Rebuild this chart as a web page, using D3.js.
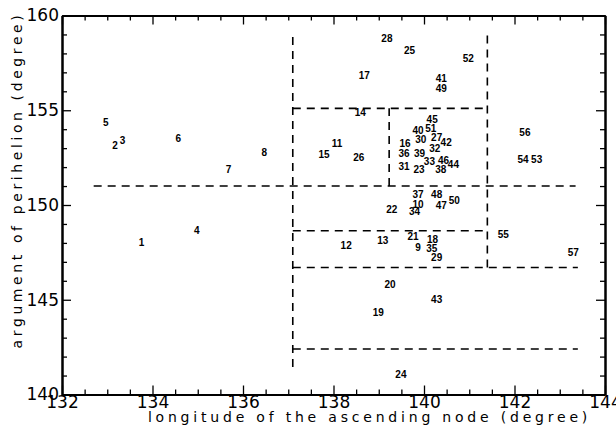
<!DOCTYPE html>
<html>
<head>
<meta charset="utf-8">
<script src="https://cdn.jsdelivr.net/npm/d3@7"></script>
<style>
  body { margin: 0; background: #fff; }
  svg { display: block; }
</style>
</head>
<body>
<svg id="chart"></svg>
<script>
// node vs perihelion, numbered objects
const ids = [1,2,3,4,5,6,7,8,9,10,11,12,13,14,15,16,17,18,19,20,21,22,23,24,25,26,27,28,29,30,
  31,32,33,34,35,36,37,38,39,40,41,42,43,44,45,46,47,48,49,50,51,52,53,54,55,56,57];
const lonValues = [133.76,133.17,133.34,134.98,132.97,134.57,135.68,136.47,139.87,139.87,
  138.08,138.28,139.09,138.59,137.79,139.58,138.68,140.19,138.99,139.25,
  139.76,139.29,139.89,139.49,139.68,138.56,140.28,139.18,140.28,139.93,
  139.56,140.24,140.12,139.79,140.17,139.56,139.87,140.37,139.90,139.87,
  140.38,140.49,140.28,140.65,140.18,140.43,140.38,140.28,140.38,140.67,
  140.15,140.98,142.49,142.19,141.75,142.23,143.30];
const argValues = [148.03,153.13,153.43,148.63,154.34,153.52,151.85,152.76,147.75,150.05,
  153.27,147.84,148.12,154.86,152.64,153.26,156.82,148.19,144.34,145.83,
  148.33,149.74,151.88,141.08,158.14,152.53,153.55,158.80,147.22,153.47,
  152.02,152.99,152.28,149.65,147.72,152.73,150.58,151.85,152.73,153.92,
  156.69,153.29,145.02,152.16,154.52,152.37,149.95,150.53,156.16,150.23,
  154.05,157.74,152.41,152.41,148.42,153.82,147.50];
// dashed boundaries: [y, x1, x2] and [x, y1, y2]
const hLines = [[151.0,132.7,143.35],[155.1,137.1,141.4],[148.64,137.1,141.4],[146.7,137.1,143.4],[142.4,137.1,143.4]];
const vLines = [[137.1,141.45,159.1],[141.4,146.7,159.1],[139.23,151.0,155.1]];
const xTicks = [132,134,136,138,140,142,144];
const yTicks = [140,145,150,155,160];

const width = 616, height = 430;
const margin = { top: 15.5, right: 11, bottom: 35.5, left: 62 };
const font = "'DejaVu Sans', sans-serif";

const x = d3.scaleLinear().domain([132,144]).range([margin.left, width - margin.right]);
const y = d3.scaleLinear().domain([140,160]).range([height - margin.bottom, margin.top]);
const xMinor = d3.range(132, 144.01, 0.5).filter(v => !xTicks.includes(v));
const yMinor = d3.range(140, 160.01, 1).filter(v => !yTicks.includes(v));

const svg = d3.select("#chart").attr("width", width).attr("height", height);

// dashed lines
svg.append("g").selectAll("line").data(hLines).join("line")
  .attr("x1", d => x(d[1])).attr("x2", d => x(d[2]))
  .attr("y1", d => y(d[0])).attr("y2", d => y(d[0]));
svg.append("g").selectAll("line").data(vLines).join("line")
  .attr("x1", d => x(d[0])).attr("x2", d => x(d[0]))
  .attr("y1", d => y(d[1])).attr("y2", d => y(d[2]));
svg.selectAll("g line")
  .attr("stroke", "#000").attr("stroke-width", 1.6).attr("stroke-dasharray", "8,6");

// numbered labels
svg.append("g").selectAll("text").data(ids).join("text")
  .attr("x", (d, i) => x(lonValues[i]))
  .attr("y", (d, i) => y(argValues[i]))
  .attr("text-anchor", "middle")
  .attr("dominant-baseline", "central")
  .style("font-family", "'Liberation Sans', Arial, sans-serif").style("font-size", "10px").style("font-weight", "bold")
  .text(d => d);

// axes, ticks pointing inward
function styleAxis(g) {
  g.select(".domain").attr("stroke-width", 2);
  g.selectAll(".tick line").attr("stroke-width", 1.3);
  g.selectAll("text").style("font-family", font).style("font-size", "17px").attr("fill", "#000");
}
const bottom = height - margin.bottom, right = width - margin.right;
svg.append("g").attr("transform", `translate(0,${bottom})`)
  .call(d3.axisBottom(x).tickValues(xTicks).tickFormat(d3.format("d")).tickSize(-9).tickPadding(1).tickSizeOuter(0))
  .call(styleAxis);
svg.append("g").attr("transform", `translate(0,${bottom})`)
  .call(d3.axisBottom(x).tickValues(xMinor).tickFormat("").tickSize(-5).tickSizeOuter(0)).call(styleAxis);
svg.append("g").attr("transform", `translate(0,${margin.top})`)
  .call(d3.axisTop(x).tickValues(xTicks).tickFormat("").tickSize(-9).tickSizeOuter(0)).call(styleAxis);
svg.append("g").attr("transform", `translate(0,${margin.top})`)
  .call(d3.axisTop(x).tickValues(xMinor).tickFormat("").tickSize(-5).tickSizeOuter(0)).call(styleAxis);
svg.append("g").attr("transform", `translate(${margin.left},0)`)
  .call(d3.axisLeft(y).tickValues(yTicks).tickFormat(d3.format("d")).tickSize(-9).tickPadding(3).tickSizeOuter(0))
  .call(styleAxis);
svg.append("g").attr("transform", `translate(${margin.left},0)`)
  .call(d3.axisLeft(y).tickValues(yMinor).tickFormat("").tickSize(-5).tickSizeOuter(0)).call(styleAxis);
svg.append("g").attr("transform", `translate(${right},0)`)
  .call(d3.axisRight(y).tickValues(yTicks).tickFormat("").tickSize(-9).tickSizeOuter(0)).call(styleAxis);
svg.append("g").attr("transform", `translate(${right},0)`)
  .call(d3.axisRight(y).tickValues(yMinor).tickFormat("").tickSize(-5).tickSizeOuter(0)).call(styleAxis);

// axis titles
svg.append("text")
  .attr("x", (margin.left + right) / 2 + 36)
  .attr("y", height - 8)
  .attr("text-anchor", "middle")
  .style("font-family", font).style("font-size", "14px").style("letter-spacing", "3.8px")
  .text("longitude of the ascending node (degree)");
svg.append("text")
  .attr("transform", `translate(22,${(margin.top + bottom) / 2 - 25}) rotate(-90)`)
  .attr("text-anchor", "middle")
  .style("font-family", font).style("font-size", "14px").style("letter-spacing", "3.6px")
  .text("argument of perihelion (degree)");
</script>
</body>
</html>
